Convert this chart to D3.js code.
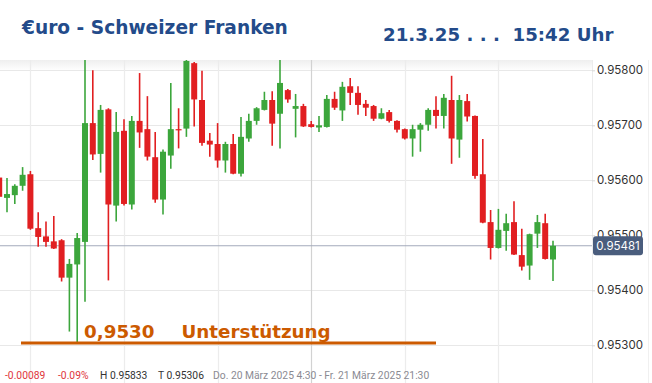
<!DOCTYPE html>
<html>
<head>
<meta charset="utf-8">
<script src="https://cdn.jsdelivr.net/npm/d3@7/dist/d3.min.js"></script>
<style>
  html, body { margin: 0; padding: 0; background: #fff; }
  svg { display: block; }
  text { white-space: pre; }
</style>
</head>
<body>
<svg id="chart" width="652" height="383"></svg>
<script>
// ---------- data ----------
const title = "€uro - Schweizer Franken";
const stamp = "21.3.25 . . .  15:42 Uhr";
const openV  = [0.95605,0.95568,0.95573,0.95590,0.95611,0.95513,0.95498,0.95489,0.95491,0.95423,0.95447,0.95488,0.95704,0.95648,0.95729,0.95554,0.95690,0.95556,0.95708,0.95693,0.95642,0.95565,0.95645,0.95693,0.95694,0.95813,0.95746,0.95672,0.95666,0.95636,0.95666,0.95612,0.95676,0.95708,0.95728,0.95746,0.95721,0.95764,0.95730,0.95735,0.95702,0.95696,0.95697,0.95748,0.95727,0.95771,0.95759,0.95739,0.95735,0.95712,0.95724,0.95708,0.95693,0.95676,0.95692,0.95701,0.95728,0.95717,0.95746,0.95674,0.95744,0.95717,0.95611,0.95524,0.95477,0.95508,0.95524,0.95464,0.95445,0.95503,0.95522,0.95456];
const highV  = [0.95612,0.95604,0.95593,0.95624,0.95617,0.95542,0.95525,0.95535,0.95493,0.95457,0.95504,0.95833,0.95800,0.95737,0.95731,0.95724,0.95711,0.95717,0.95795,0.95753,0.95688,0.95656,0.95777,0.95731,0.95825,0.95815,0.95799,0.95686,0.95704,0.95670,0.95684,0.95715,0.95721,0.95733,0.95761,0.95762,0.95820,0.95766,0.95757,0.95739,0.95708,0.95717,0.95755,0.95761,0.95779,0.95786,0.95771,0.95746,0.95737,0.95731,0.95728,0.95709,0.95694,0.95701,0.95704,0.95731,0.95753,0.95757,0.95790,0.95755,0.95757,0.95718,0.95675,0.95546,0.95548,0.95539,0.95562,0.95512,0.95503,0.95537,0.95539,0.95490];
const lowV   = [0.95560,0.95542,0.95557,0.95581,0.95510,0.95479,0.95479,0.95475,0.95416,0.95325,0.95306,0.95379,0.95637,0.95614,0.95418,0.95525,0.95554,0.95547,0.95659,0.95636,0.95559,0.95538,0.95621,0.95658,0.95679,0.95698,0.95663,0.95643,0.95623,0.95614,0.95611,0.95607,0.95670,0.95701,0.95727,0.95663,0.95658,0.95741,0.95678,0.95697,0.95696,0.95688,0.95696,0.95728,0.95708,0.95737,0.95719,0.95717,0.95708,0.95711,0.95705,0.95687,0.95674,0.95643,0.95652,0.95690,0.95694,0.95694,0.95630,0.95641,0.95707,0.95603,0.95522,0.95456,0.95476,0.95472,0.95464,0.95436,0.95419,0.95477,0.95456,0.95417];
const closeV = [0.95570,0.95575,0.95590,0.95610,0.95512,0.95497,0.95488,0.95476,0.95423,0.95448,0.95495,0.95704,0.95647,0.95728,0.95556,0.95688,0.95557,0.95708,0.95687,0.95643,0.95565,0.95652,0.95693,0.95692,0.95817,0.95747,0.95668,0.95665,0.95636,0.95666,0.95612,0.95679,0.95708,0.95731,0.95746,0.95703,0.95777,0.95747,0.95735,0.95698,0.95697,0.95700,0.95748,0.95732,0.95770,0.95759,0.95737,0.95732,0.95712,0.95722,0.95708,0.95692,0.95676,0.95693,0.95701,0.95728,0.95717,0.95750,0.95676,0.95746,0.95716,0.95608,0.95523,0.95477,0.95510,0.95522,0.95465,0.95443,0.95502,0.95524,0.95457,0.95481];
const yTicks = [0.953, 0.954, 0.955, 0.956, 0.957, 0.958];
const timeGridIdx = [4, 16, 28, 40, 52, 64];   // candle positions of vertical grid lines
const dayBreakIdx = 40;
const lastPrice = 0.95481;
const supportLevel = 0.9530;
const supportLabel = "0,9530";
const supportText = "Unterstützung";
const infoItems = [
  {t: "-0.00089", c: "#e0353b"},
  {t: "-0.09%", c: "#e0353b"},
  {t: "H 0.95833", c: "#333"},
  {t: "T 0.95306", c: "#333"},
  {t: "Do. 20 März 2025 4:30 - Fr. 21 März 2025 21:30", c: "#8a8a92"}
];

// ---------- layout ----------
const W = 652, H = 383;
const plotTop = 60, plotRight = 592;
const svg = d3.select("#chart");
const candles = openV.map((o, i) => ({i, o, h: highV[i], l: lowV[i], c: closeV[i]}));

const x = d3.scaleLinear().domain([1, 71]).range([7, 553]);
const y = d3.scaleLinear().domain([0.953, 0.958]).range([345.3, 70.3]);

const defs = svg.append("defs");
defs.append("clipPath").attr("id", "plotclip").append("rect")
  .attr("x", 0).attr("y", plotTop).attr("width", plotRight).attr("height", H - plotTop);
const grad = defs.append("linearGradient").attr("id", "topfade").attr("x1", 0).attr("x2", 0).attr("y1", 0).attr("y2", 1);
grad.append("stop").attr("offset", "0%").attr("stop-color", "#efefef");
grad.append("stop").attr("offset", "100%").attr("stop-color", "#ffffff");

// top fade band
svg.append("rect").attr("x", 0).attr("y", plotTop).attr("width", plotRight).attr("height", 11)
  .attr("fill", "url(#topfade)");

// horizontal grid
svg.append("g").selectAll("line").data(yTicks).join("line")
  .attr("x1", 0).attr("x2", plotRight)
  .attr("y1", d => Math.round(y(d)) + 0.5).attr("y2", d => Math.round(y(d)) + 0.5)
  .attr("stroke", "#e8e8e8").attr("stroke-width", 1);

// vertical grid
svg.append("g").selectAll("line").data(timeGridIdx).join("line")
  .attr("x1", d => Math.round(x(d)) + 0.5).attr("x2", d => Math.round(x(d)) + 0.5)
  .attr("y1", plotTop).attr("y2", H)
  .attr("stroke", d => d === dayBreakIdx ? "#d2d2d2" : "#ececec").attr("stroke-width", 1.2);

// right axis border lines
svg.append("line").attr("x1", plotRight + 0.5).attr("x2", plotRight + 0.5).attr("y1", plotTop).attr("y2", H)
  .attr("stroke", "#ececec");
svg.append("line").attr("x1", 648.5).attr("x2", 648.5).attr("y1", plotTop).attr("y2", H)
  .attr("stroke", "#f0f0f0");

// current price line
svg.append("line").attr("x1", 0).attr("x2", plotRight)
  .attr("y1", y(lastPrice)).attr("y2", y(lastPrice))
  .attr("stroke", "#a3aabb").attr("stroke-width", 1.2);

// candles
const green = "#3ca63c", red = "#e11f21";
const cg = svg.append("g").attr("clip-path", "url(#plotclip)");
const bw = 6;
cg.selectAll("line.wick").data(candles).join("line").attr("class", "wick")
  .attr("x1", d => x(d.i)).attr("x2", d => x(d.i))
  .attr("y1", d => y(d.h)).attr("y2", d => y(d.l))
  .attr("stroke", d => d.c >= d.o ? green : red).attr("stroke-width", 1.6);
cg.selectAll("rect.body").data(candles).join("rect").attr("class", "body")
  .attr("x", d => x(d.i) - bw / 2).attr("width", bw)
  .attr("y", d => y(Math.max(d.o, d.c)))
  .attr("height", d => Math.max(1.2, Math.abs(y(d.o) - y(d.c))))
  .attr("fill", d => d.c >= d.o ? green : red);

// y axis
const axis = d3.axisRight(y).tickValues(yTicks).tickFormat(d3.format(".5f")).tickSize(3).tickPadding(2);
const ag = svg.append("g").attr("transform", `translate(${plotRight},0)`).call(axis);
ag.select(".domain").remove();
ag.selectAll(".tick line").attr("stroke", "#d8d8d8");
ag.selectAll(".tick text").attr("fill", "#333").attr("font-family", "Inter, 'Noto Sans', sans-serif")
  .attr("font-size", 11.5);

// last price label
const lp = svg.append("g").attr("transform", `translate(593,${y(lastPrice)})`);
lp.append("rect").attr("x", 0).attr("y", -9.5).attr("width", 50).attr("height", 19).attr("rx", 3)
  .attr("fill", "#4a5d7d");
lp.append("text").attr("x", 25).attr("y", 0).attr("dy", "0.36em").attr("text-anchor", "middle")
  .attr("fill", "#fff").attr("font-family", "Inter, 'Noto Sans', sans-serif").attr("font-size", 11.5)
  .text(d3.format(".5f")(lastPrice));

// support line and label
const sc = "#cc5a00";
svg.append("line").attr("x1", 21).attr("x2", 436)
  .attr("y1", y(supportLevel) - 2.3).attr("y2", y(supportLevel) - 2.3)
  .attr("stroke", sc).attr("stroke-width", 3.2);
svg.append("text").attr("x", 84).attr("y", y(supportLevel) - 7.5)
  .attr("fill", sc).attr("font-family", "'DejaVu Sans', sans-serif").attr("font-weight", "bold")
  .attr("font-size", 18.3).text(supportLabel);
svg.append("text").attr("x", 181.5).attr("y", y(supportLevel) - 7.5)
  .attr("fill", sc).attr("font-family", "'DejaVu Sans', sans-serif").attr("font-weight", "bold")
  .attr("font-size", 18.3).text(supportText);

// header
svg.append("rect").attr("x", 0).attr("y", 0).attr("width", W).attr("height", plotTop).attr("fill", "#fff");
svg.append("text").attr("x", 22).attr("y", 34.3).attr("fill", "#234b8a")
  .attr("font-family", "'DejaVu Sans', sans-serif").attr("font-weight", "bold").attr("font-size", 18.6)
  .text(title);
svg.append("text").attr("x", 383).attr("y", 41).attr("fill", "#234b8a")
  .attr("font-family", "'DejaVu Sans', sans-serif").attr("font-weight", "bold").attr("font-size", 18.2)
  .text(stamp);

// info bar
const infoX = [5, 58, 100, 158, 213];
svg.append("g").selectAll("text").data(infoItems).join("text")
  .attr("x", (d, i) => infoX[i]).attr("y", 379.3)
  .attr("fill", d => d.c).attr("font-family", "Roboto, 'Noto Sans', sans-serif").attr("font-size", 10.3)
  .text(d => d.t);
</script>
</body>
</html>
